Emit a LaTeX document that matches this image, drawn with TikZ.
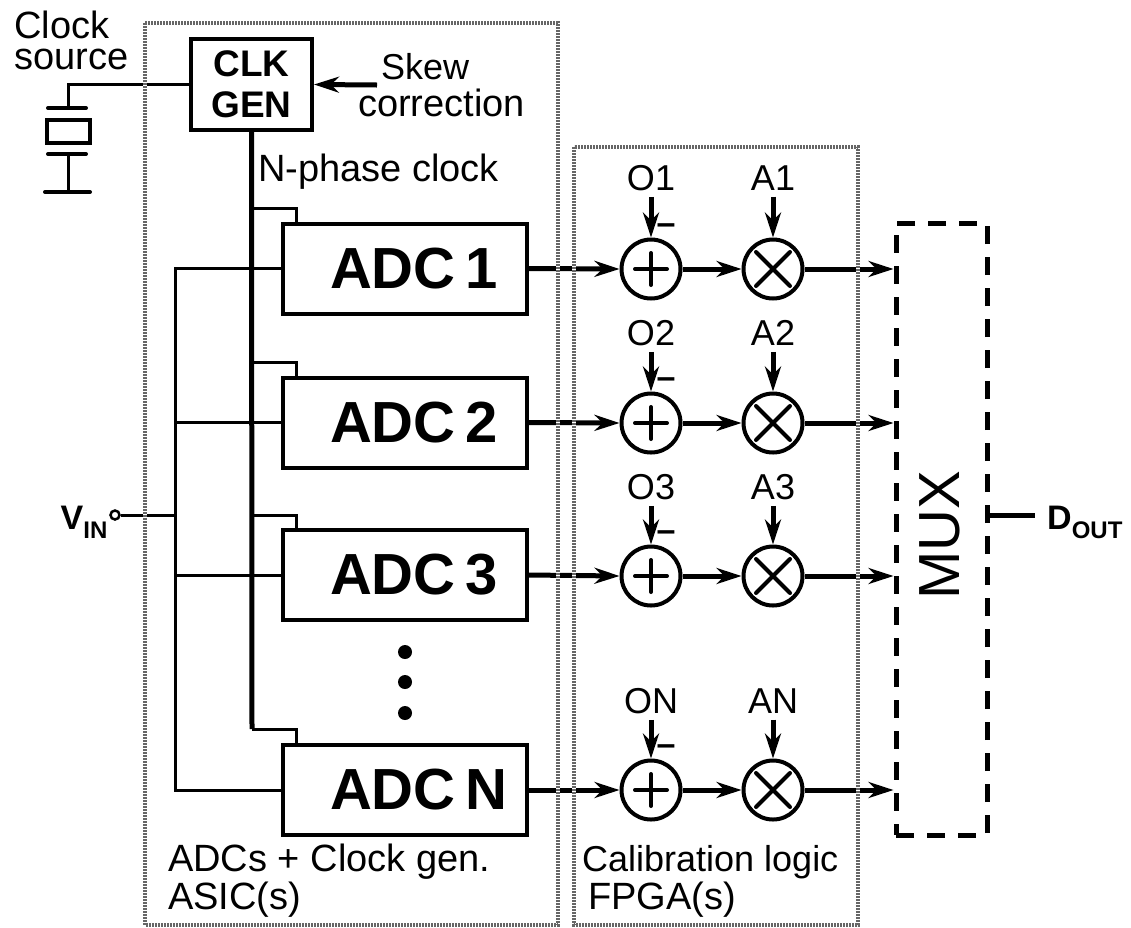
\documentclass[tikz,border=0pt]{standalone}
\usepackage{fontspec}
\setmainfont{Liberation Sans}
\usetikzlibrary{arrows.meta}

\newcommand{\bigsize}{\fontsize{36}{38}\selectfont}
\newcommand{\widesize}{\fontsize{38}{40}\selectfont}
\newcommand{\lowtext}[1]{\raisebox{-9pt}{\fontsize{24}{24}\selectfont #1}}

\tikzset{
	lbl/.style={font=\bigsize, inner sep=0pt},
	widelbl/.style={font=\widesize, inner sep=0pt},
	bandbox/.style={draw=black!60, line width=4pt, dash pattern=on 1.6pt off 1.4pt, preaction={draw=white, solid, line width=4pt}},
	wire/.style={line width=3pt},
	buswire/.style={line width=5pt},
	arrowwire/.style={line width=5pt, -{Stealth[length=25pt, width=16pt]}},
	adcbox/.style={draw, line width=4pt, minimum height=90pt, text width=244pt, inner xsep=0pt, align=left, font=\fontsize{58}{60}\selectfont\bfseries},
	opnode/.style={circle, draw, line width=4pt, minimum size=59pt, inner sep=0pt},
	sumnode/.style={opnode, path picture={
		\draw[line width=4pt, line cap=round] (path picture bounding box.center) ++(-16,0) -- ++(32,0);
		\draw[line width=4pt, line cap=round] (path picture bounding box.center) ++(0,-16) -- ++(0,32);}},
	mulnode/.style={opnode, path picture={
		\draw[line width=4pt, line cap=round] (path picture bounding box.center) ++(-17,-17) -- ++(34,34);
		\draw[line width=4pt, line cap=round] (path picture bounding box.center) ++(-17,17) -- ++(34,-34);}},
	inlbl/.style={lbl, inner ysep=6pt},
	minuslbl/.style={inner sep=0pt, font=\fontsize{34}{34}\selectfont\bfseries}
}

\begin{document}
\begin{tikzpicture}[x=1pt, y=-1pt]
	\useasboundingbox (0,0) rectangle (1131,927);

	\node[widelbl, anchor=west] (clocktext) at (14,25) {Clock};
	\node[widelbl, anchor=west] (sourcetext) at (14,59) {source};
	\node[draw, line width=4pt, minimum width=121pt, minimum height=91pt, inner sep=0pt, align=center, font=\fontsize{37}{41}\selectfont\bfseries] (clkgen) at (251.5,84.5) {CLK\\GEN};
	\node[lbl, anchor=west] (skewtext) at (381,67) {Skew};
	\node[widelbl, anchor=west] (corrtext) at (358,103) {correction};
	\node[widelbl, anchor=west] (phasetext) at (258,172) {N-phase clock};

	\coordinate (skewend) at (377,85);
	\draw[arrowwire] (skewend) -- (clkgen.east);

	\node[draw, line width=4pt, minimum width=43pt, minimum height=23pt, inner sep=0pt] (crystal) at (68,131) {};
	\coordinate (platetop) at (68,108);
	\coordinate (platelow) at (68,154);
	\coordinate (ground) at (68,192);
	\draw[wire] (clkgen.west) -| (platetop);
	\draw[line width=4pt, line cap=round] (48,108) -- (86,108);
	\draw[line width=4pt, line cap=round] (48,154) -- (86,154);
	\draw[wire] (platelow) -- (ground);
	\draw[line width=4pt, line cap=round] (45,192) -- (90,192);

	\node[adcbox] (adc1) at (405,268.5) {\hspace*{47pt}ADC\hspace{10pt}1};
	\node[adcbox] (adc2) at (405,422.5) {\hspace*{47pt}ADC\hspace{10pt}2};
	\node[adcbox] (adc3) at (405,575) {\hspace*{47pt}ADC\hspace{10pt}3};
	\node[adcbox] (adcN) at (405,790) {\hspace*{47pt}ADC\hspace{10pt}N};

	\coordinate (clk1) at (252,208);
	\coordinate (clk2) at (252,362);
	\coordinate (clk3) at (252,515);
	\coordinate (clkN) at (252,729);
	\draw[buswire] (clkgen.south) -- (clkN);
	\draw[wire] (clk1) -| ([xshift=15pt]adc1.north west);
	\draw[wire] (clk2) -| ([xshift=15pt]adc2.north west);
	\draw[wire] (clk3) -| ([xshift=15pt]adc3.north west);
	\draw[wire] (clkN) -| ([xshift=15pt]adcN.north west);

	\node[lbl] (vintext) at (84,522) {\fontsize{34}{34}\selectfont\bfseries V\lowtext{IN}};
	\node[circle, draw, line width=2.5pt, minimum size=9pt, inner sep=0pt] (vindot) at (115,515) {};
	\coordinate (vjoin) at (175,515);
	\draw[wire] (vindot) -- (vjoin);
	\draw[wire] (adc1.west) -| (vjoin |- adcN.west) -- (adcN.west);
	\draw[wire] (vjoin |- adc2.west) -- (adc2.west);
	\draw[wire] (vjoin |- adc3.west) -- (adc3.west);

	\node[circle, fill=black, inner sep=0pt, minimum size=14pt] (dot1) at (405,652) {};
	\node[circle, fill=black, inner sep=0pt, minimum size=14pt] (dot2) at (405,682) {};
	\node[circle, fill=black, inner sep=0pt, minimum size=14pt] (dot3) at (405,713) {};

	\node[draw, dashed, line width=5pt, dash pattern=on 18pt off 13pt, minimum width=91pt, minimum height=612pt, inner sep=0pt] (mux) at (941.5,529) {};
	\node[rotate=90, inner sep=0pt, font=\fontsize{58}{58}\selectfont] (muxtext) at (940,535) {MUX};
	\coordinate (doutstart) at (987,515);
	\coordinate (doutend) at (1035,515);
	\draw[buswire] (doutstart) -- (doutend);
	\node[lbl, anchor=west] (douttext) at (1047,522) {\fontsize{34}{34}\selectfont\bfseries D\lowtext{OUT}};

	\node[sumnode] (sum1) at (651,269) {};
	\node[mulnode] (mul1) at (773,269) {};
	\node[inlbl] (off1) at (651,178) {O1};
	\node[inlbl] (amp1) at (773,178) {A1};
	\node[minuslbl] (minus1) at (666,229) {--};
	\draw[arrowwire] (off1.south) -- (sum1.north);
	\draw[arrowwire] (amp1.south) -- (mul1.north);
	\draw[arrowwire] (adc1.east) -- (sum1.west);
	\draw[arrowwire] (sum1.east) -- (mul1.west);
	\draw[arrowwire] (mul1.east) -- (mul1 -| mux.west);

	\node[sumnode] (sum2) at (651,423) {};
	\node[mulnode] (mul2) at (773,423) {};
	\node[inlbl] (off2) at (651,333) {O2};
	\node[inlbl] (amp2) at (773,333) {A2};
	\node[minuslbl] (minus2) at (666,383) {--};
	\draw[arrowwire] (off2.south) -- (sum2.north);
	\draw[arrowwire] (amp2.south) -- (mul2.north);
	\draw[arrowwire] (adc2.east) -- (sum2.west);
	\draw[arrowwire] (sum2.east) -- (mul2.west);
	\draw[arrowwire] (mul2.east) -- (mul2 -| mux.west);

	\node[sumnode] (sum3) at (651,576) {};
	\node[mulnode] (mul3) at (773,576) {};
	\node[inlbl] (off3) at (651,487) {O3};
	\node[inlbl] (amp3) at (773,487) {A3};
	\node[minuslbl] (minus3) at (666,536) {--};
	\draw[arrowwire] (off3.south) -- (sum3.north);
	\draw[arrowwire] (amp3.south) -- (mul3.north);
	\draw[arrowwire] (adc3.east) -- (sum3.west);
	\draw[arrowwire] (sum3.east) -- (mul3.west);
	\draw[arrowwire] (mul3.east) -- (mul3 -| mux.west);

	\node[sumnode] (sumN) at (651,790) {};
	\node[mulnode] (mulN) at (773,790) {};
	\node[inlbl] (offN) at (651,701) {ON};
	\node[inlbl] (ampN) at (773,701) {AN};
	\node[minuslbl] (minusN) at (666,750) {--};
	\draw[arrowwire] (offN.south) -- (sumN.north);
	\draw[arrowwire] (ampN.south) -- (mulN.north);
	\draw[arrowwire] (adcN.east) -- (sumN.west);
	\draw[arrowwire] (sumN.east) -- (mulN.west);
	\draw[arrowwire] (mulN.east) -- (mulN -| mux.west);

	\node[widelbl, anchor=west] (asictext1) at (168,862) {ADCs + Clock gen.};
	\node[widelbl, anchor=west] (asictext2) at (168,900) {ASIC(s)};
	\node[lbl, anchor=west] (fpgatext1) at (582,862) {Calibration logic};
	\node[widelbl, anchor=west] (fpgatext2) at (588,900) {FPGA(s)};

	\draw[bandbox] (145,23) rectangle (558,925);
	\draw[bandbox] (574,147) rectangle (858,925);
\end{tikzpicture}
\end{document}
